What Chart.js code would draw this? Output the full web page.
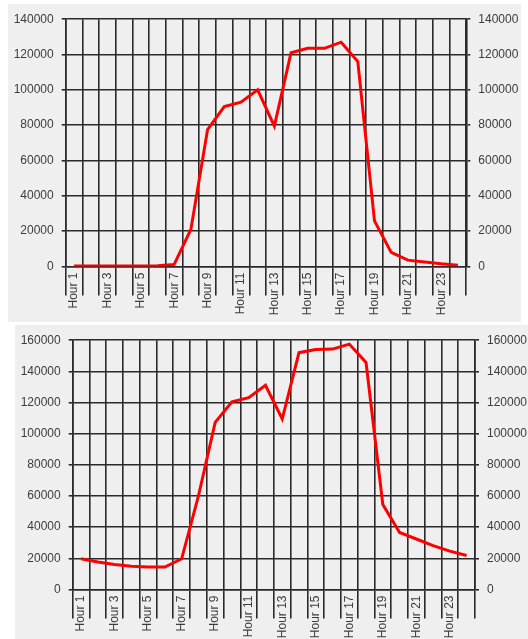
<!DOCTYPE html>
<html lang="en">
<head>
    <meta charset="UTF-8">
    <title>Hourly traffic</title>
    <script src="https://cdn.jsdelivr.net/npm/chart.js"></script>
    <style>
        html, body { margin: 0; padding: 0; background: #fff; overflow: hidden; width: 528px; height: 639px; }
        canvas { position: absolute; background: #efefef; }
        #chartTop { left: 8px; top: 4px; }
        #chartBottom { left: 15px; top: 325px; }
    </style>
</head>
<body>
    <canvas id="chartTop" width="513" height="318"></canvas>
    <canvas id="chartBottom" width="513" height="318"></canvas>

    <script>
        const hours = ['Hour 1', 'Hour 2', 'Hour 3', 'Hour 4', 'Hour 5', 'Hour 6', 'Hour 7', 'Hour 8',
            'Hour 9', 'Hour 10', 'Hour 11', 'Hour 12', 'Hour 13', 'Hour 14', 'Hour 15', 'Hour 16',
            'Hour 17', 'Hour 18', 'Hour 19', 'Hour 20', 'Hour 21', 'Hour 22', 'Hour 23', 'Hour 24'];

        const topValues = [300, 300, 300, 300, 300, 400, 1200, 21000, 77500, 90500, 93000, 100000,
            79500, 121000, 123500, 123500, 127000, 116000, 25800, 8000, 3600, 2600, 1500, 700];

        const bottomValues = [19700, 17600, 16100, 14900, 14400, 14400, 19700, 60000, 107300, 120400, 123100, 131000,
            109400, 152000, 154000, 154300, 157500, 145700, 54600, 36600, 32400, 28200, 24600, 21800];

        const topMax = 140000;
        const bottomMax = 160000;
        const yStep = 20000;

        const fuente = { family: 'Liberation Sans, Arial, sans-serif', size: 12 };
        const textColor = '#3c3c3c';
        const gridColor = '#2a2a2a';

        function crearGrafico(id, values, maxY, leftW, rightW, topPad, xHeight) {
            const ctx = document.getElementById(id).getContext('2d');
            const yAxis = (pos) => ({
                position: pos,
                min: 0,
                max: maxY,
                afterFit: (s) => { s.width = pos === 'left' ? leftW : rightW; },
                ticks: {
                    stepSize: yStep,
                    color: textColor,
                    font: fuente,
                    padding: 8,
                    callback: (v) => String(v)
                },
                grid: {
                    color: gridColor,
                    lineWidth: 1.6,
                    tickLength: 4,
                    drawOnChartArea: pos === 'left'
                },
                border: { color: gridColor, width: 1.6 }
            });

            return new Chart(ctx, {
                type: 'line',
                data: {
                    labels: hours,
                    datasets: [{
                        data: values,
                        borderColor: '#ff0000',
                        borderWidth: 3,
                        pointRadius: 0,
                        tension: 0,
                        fill: false
                    }]
                },
                options: {
                    responsive: false,
                    animation: false,
                    layout: { padding: { top: topPad, left: 0, right: 0, bottom: 0 } },
                    plugins: { legend: { display: false }, tooltip: { enabled: false } },
                    scales: {
                        x: {
                            offset: true,
                            afterFit: (s) => { s.height = xHeight; },
                            grid: {
                                offset: true,
                                color: gridColor,
                                lineWidth: 1.6,
                                tickLength: 29
                            },
                            border: { color: gridColor, width: 1.6 },
                            ticks: {
                                autoSkip: false,
                                minRotation: 90,
                                maxRotation: 90,
                                padding: -23,
                                color: textColor,
                                font: fuente,
                                callback: function (val, i) {
                                    return i % 2 === 0 ? this.getLabelForValue(val) : '';
                                }
                            }
                        },
                        y: yAxis('left'),
                        y2: yAxis('right')
                    }
                }
            });
        }

        crearGrafico('chartTop', topValues, topMax, 57.7, 54.7, 10, 55.5);
        crearGrafico('chartBottom', bottomValues, bottomMax, 57.7, 53, 11.7, 53.5);
    </script>
</body>
</html>
